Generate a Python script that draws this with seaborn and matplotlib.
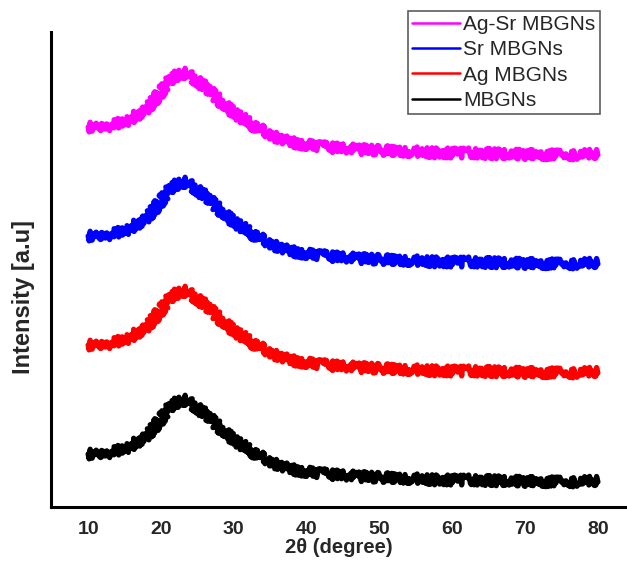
import numpy as np
import pandas as pd
import seaborn as sns
import matplotlib.pyplot as plt

two_theta = [10, 11.5, 13.5, 15.5, 16.5, 18, 19, 20, 21, 21.5, 22.5, 23.5, 24.5,
             25.5, 26.5, 27, 28, 29, 30, 31, 32, 32.5, 33.5, 34.5, 35.5, 37.5,
             40.5, 44, 48.5, 53.5, 58, 62.5, 67, 71.5, 76, 80]
intensity = [53, 53, 55, 59.5, 64, 71, 79, 88, 97, 103, 105, 107, 102,
             96, 91, 86, 80, 73, 67, 62, 59, 55, 51, 48, 44, 38,
             34.7, 32, 30, 28.7, 27, 27, 26, 25.3, 25, 26]
samples = ['Ag-Sr MBGNs', 'Sr MBGNs', 'Ag MBGNs', 'MBGNs']
offsets = [327, 218, 109, 0]
colors = ['#ff00ff', '#0000ff', '#ff0000', '#000000']

rows = []
for name, off in zip(samples, offsets):
    for t, i in zip(two_theta, intensity):
        rows.append({'2theta': t, 'intensity': i + off, 'sample': name})
df = pd.DataFrame(rows)

sns.set_style('white')
plt.rcParams['font.family'] = ['Liberation Sans', 'DejaVu Sans']

fig = plt.figure(figsize=(6.27, 5.62), dpi=100)
ax = fig.add_axes([51 / 627, 55 / 562, 1 - 51 / 627, 475 / 562])

sns.lineplot(data=df, x='2theta', y='intensity', hue='sample', hue_order=samples,
             palette=dict(zip(samples, colors)), linewidth=3.8, legend=False,
             sort=False, ax=ax)
# rough edges like the noisy diffractogram
for line in ax.lines:
    line.set_sketch_params(scale=5.0, length=0.6, randomness=6)

ax.set_xlim(4.9, 84)
ax.set_ylim(0, 475)
ax.set_xticks([10, 20, 30, 40, 50, 60, 70, 80])
ax.set_yticks([])
ax.tick_params(axis='x', length=0, pad=10, labelsize=14)
for lab in ax.get_xticklabels():
    lab.set_fontweight('bold')
for side in ['top', 'right']:
    ax.spines[side].set_visible(False)
for side in ['left', 'bottom']:
    ax.spines[side].set_linewidth(2.2)
    ax.spines[side].set_color('black')

ax.set_xlabel('2θ (degree)', fontsize=14.5, fontweight='bold', labelpad=0)
ax.set_ylabel('Intensity [a.u]', fontsize=17, fontweight='bold')
ax.yaxis.set_label_coords(-0.028, 0.442)

handles = [plt.Line2D([], [], color=c, linewidth=1.8) for c in colors]
leg = fig.legend(handles, samples, loc='upper left',
                 bbox_to_anchor=(408 / 627, 1 - 11 / 562), borderaxespad=0,
                 fontsize=15, frameon=True, fancybox=False, handlelength=2.3,
                 handletextpad=0.15, labelspacing=0.3, borderpad=0.2)
leg.get_frame().set_edgecolor('#333333')
leg.get_frame().set_linewidth(1.2)

fig.savefig('out.png', dpi=100)
